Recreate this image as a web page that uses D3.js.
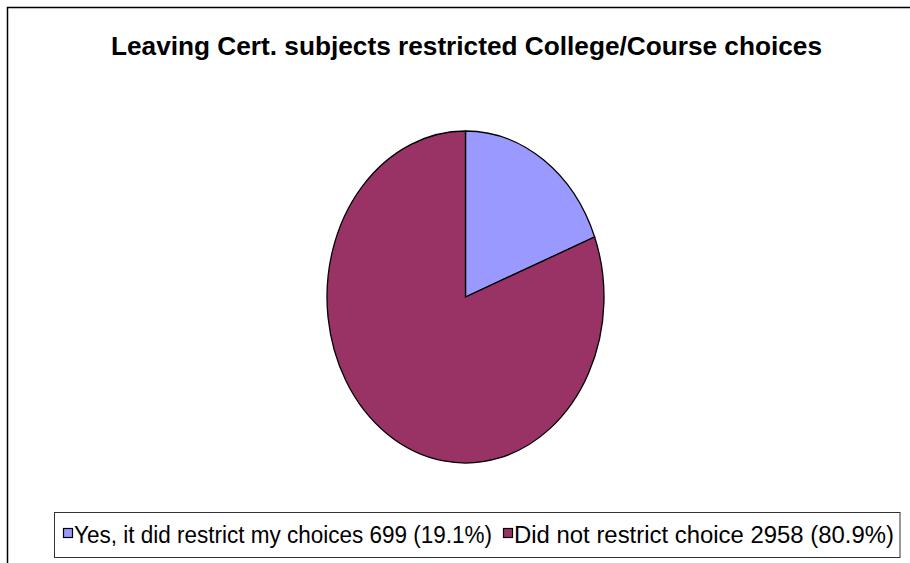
<!DOCTYPE html>
<html>
<head>
<meta charset="utf-8">
<script src="https://cdn.jsdelivr.net/npm/d3@7"></script>
<style>
  html, body { margin: 0; padding: 0; background: #fff; }
  svg { display: block; }
  text { font-family: "Liberation Sans", Arial, Helvetica, sans-serif; }
</style>
</head>
<body>
<svg id="chart" width="910" height="563"></svg>
<script>
// Chart data
const title = "Leaving Cert. subjects restricted College/Course choices"
const categories = ["Yes, it did restrict my choices", "Did not restrict choice"]
const counts = [699, 2958]
const percents = ["19.1%", "80.9%"]
const colors = ["#9999FF", "#993366"]

// text widths (it was squeezed sideways)
const legendTextWidths = [418, 380]

const svg = d3.select("#chart")

// outer chart frame (cropped at right and bottom)
svg.append("path")
  .attr("d", "M7.5,563 L7.5,7.5 L910,7.5")
  .attr("fill", "none")
  .attr("stroke", "#000")
  .attr("stroke-width", 1.5)

// title
svg.append("text")
  .attr("x", 111)
  .attr("y", 55)
  .attr("font-size", 26)
  .attr("font-weight", "bold")
  .attr("textLength", 711)
  .attr("lengthAdjust", "spacingAndGlyphs")
  .text(title)

// pie, drawn as circle then stretched vertically into an ellipse
const cx = 465.5, cy = 297, rx = 138.5, ry = 166
const pie = d3.pie().sort(null).value(d => d)
const arc = d3.arc().innerRadius(0).outerRadius(rx)

svg.append("g")
  .attr("transform", `translate(${cx},${cy}) scale(1,${ry / rx})`)
  .selectAll("path")
  .data(pie(counts))
  .join("path")
  .attr("d", arc)
  .attr("fill", (d, i) => colors[i])
  .attr("stroke", "#000")
  .attr("stroke-width", 1.3)
  .attr("stroke-linejoin", "miter")
  .attr("vector-effect", "non-scaling-stroke")

// legend
const legend = svg.append("g")
const box = legend.append("rect")
  .attr("x", 54.5)
  .attr("y", 512.5)
  .attr("height", 45)
  .attr("fill", "#fff")
  .attr("stroke", "#333")
  .attr("stroke-width", 1)

let x = 63
categories.forEach((c, i) => {
  legend.append("rect")
    .attr("x", x + 0.5)
    .attr("y", 528.5)
    .attr("width", 9)
    .attr("height", 9)
    .attr("fill", colors[i])
    .attr("stroke", "#000")
    .attr("stroke-width", 1.2)
  legend.append("text")
    .attr("x", x + 11)
    .attr("y", 542.5)
    .attr("font-size", 23)
    .attr("fill", "#000")
    .attr("textLength", legendTextWidths[i])
    .attr("lengthAdjust", "spacingAndGlyphs")
    .text(`${c} ${counts[i]} (${percents[i]})`)
  x += 11 + legendTextWidths[i] + 11
})
box.attr("width", x - 11 + 6 - 54.5)
</script>
</body>
</html>
